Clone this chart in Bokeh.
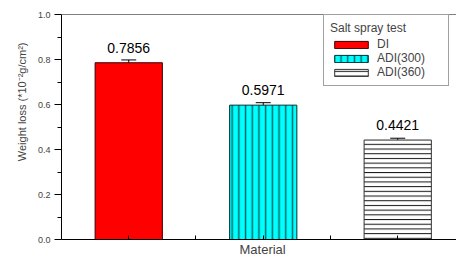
from bokeh.plotting import figure
from bokeh.models import (ColumnDataSource, Whisker, TeeHead, LabelSet, Span, Title,
                          FixedTicker, Legend, LegendItem)
from bokeh.core.properties import value
from bokeh.embed import file_html
from bokeh.resources import INLINE

categories = ["DI", "ADI(300)", "ADI(360)"]
positions = [1, 2, 3]
values = [0.7856, 0.5971, 0.4421]
errors = [0.0125, 0.011, 0.008]
value_labels = ["0.7856", "0.5971", "0.4421"]
y_ticks = [0.0, 0.2, 0.4, 0.6, 0.8, 1.0]

FONT = "Liberation Sans"

p = figure(width=456, height=256, output_backend="svg", toolbar_location=None,
           x_range=(0.5, 3.437), y_range=(0.0, 1.0),
           min_border_left=61, min_border_right=0, min_border_top=14, min_border_bottom=15)
p.outline_line_color = None
p.grid.visible = False
p.background_fill_color = "white"
p.border_fill_color = "white"

src = ColumnDataSource(dict(x=positions, top=values,
                            upper=[v + e for v, e in zip(values, errors)],
                            lower=[v - e for v, e in zip(values, errors)],
                            lab=value_labels))

r1 = p.vbar(x=[positions[0]], top=[values[0]], width=0.5, bottom=0,
            fill_color="#FF0000", line_color="#3a0000", line_width=1)
r2 = p.vbar(x=[positions[1]], top=[values[1]], width=0.5, bottom=0,
            fill_color="#00FFFF", line_color="#003333", line_width=1,
            hatch_pattern="vertical_line", hatch_color="#006666",
            hatch_scale=6.7, hatch_weight=1.5)
r3 = p.vbar(x=[positions[2]], top=[values[2]], width=0.5, bottom=0,
            fill_color="white", line_color="#333333", line_width=1,
            hatch_pattern="horizontal_line", hatch_color="#111111",
            hatch_scale=4.7, hatch_weight=1)

w = Whisker(source=src, base="x", upper="upper", lower="lower",
            line_color="black", line_width=1,
            upper_head=TeeHead(size=15, line_color="black", line_width=1),
            lower_head=TeeHead(size=15, line_color="black", line_width=1))
p.add_layout(w)

labels = LabelSet(source=src, x="x", y="top", text="lab", y_offset=10,
                  text_align="center", text_baseline="alphabetic",
                  text_font=value(FONT), text_font_size=value("14px"), text_color="black")
p.add_layout(labels)

p.add_layout(Span(location=1.0, dimension="width", line_color="black", line_width=1))

# y axis
p.yaxis.ticker = FixedTicker(ticks=y_ticks, minor_ticks=[0.1, 0.3, 0.5, 0.7, 0.9])
p.yaxis.major_label_overrides = {t: f"{t:.1f}" for t in y_ticks}
p.yaxis.major_tick_out = 7
p.yaxis.major_tick_in = 0
p.yaxis.minor_tick_out = 4
p.yaxis.minor_tick_in = 0
p.yaxis.major_label_standoff = 4
p.yaxis.major_label_text_font = FONT
p.yaxis.major_label_text_font_size = "9px"
p.yaxis.axis_line_color = "black"

# x axis: only small inward ticks, no tick labels
p.xaxis.ticker = FixedTicker(ticks=[], minor_ticks=[1, 1.5, 2, 2.5, 3])
p.xaxis.major_label_standoff = 0
p.xaxis.major_tick_in = 0
p.xaxis.major_tick_out = 0
p.xaxis.minor_tick_in = 4
p.xaxis.minor_tick_out = 0
p.xaxis.minor_tick_line_color = "black"
p.xaxis.axis_line_color = "black"

p.add_layout(Title(text="Material", align="left", offset=178, standoff=0,
                   text_font=FONT, text_font_size="13px", text_font_style="normal"), "below")
p.add_layout(Title(text="Weight loss (*10\u207b\u00b2g/cm\u00b2)", align="right", offset=28,
                   standoff=14, text_font=FONT, text_font_size="11px",
                   text_font_style="normal"), "left")

legend = Legend(items=[LegendItem(label=categories[0], renderers=[r1]),
                       LegendItem(label=categories[1], renderers=[r2]),
                       LegendItem(label=categories[2], renderers=[r3])],
                title="Salt spray test", location=(262, 153),
                glyph_width=42, glyph_height=9, label_height=13, label_width=65,
                label_standoff=5, spacing=0, padding=6, margin=0,
                label_text_font=FONT, label_text_font_size="12px",
                title_text_font=FONT, title_text_font_size="12px",
                title_text_font_style="normal", title_standoff=2,
                border_line_color="#444444", border_line_width=1.5,
                background_fill_color="white", background_fill_alpha=1.0)
p.add_layout(legend)

open("out.html", "w").write(file_html(p, INLINE))
